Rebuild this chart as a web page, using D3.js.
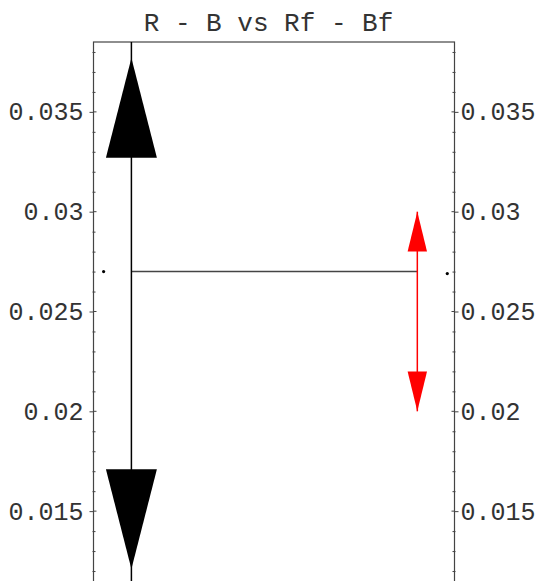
<!DOCTYPE html>
<html><head><meta charset="utf-8">
<script src="https://cdn.jsdelivr.net/npm/d3@7"></script>
<style>body{margin:0;background:#fff}</style>
</head><body>
<svg id="c" width="541" height="581"></svg>
<script>
const title = "R - B vs Rf - Bf";
const majorTicks = [0.015, 0.02, 0.025, 0.03, 0.035];
const tickLabels = ["0.015", "0.02", "0.025", "0.03", "0.035"];
const series = ["R - B", "Rf - Bf"];
const xPos = [0.105, 0.897];
const centers = [0.027, 0.027];
const lineHigh = [0.0385, 0.030];
const lineLow = [0.0115, 0.020];
const tipHigh = [0.0377, 0.030];
const baseHigh = [0.0327, 0.028];
const baseLow = [0.0171, 0.022];
const tipLow = [0.0121, 0.020];
const colors = ["#000", "#ff0000"];
const headHalf = [25.5, 9.7];
const dotX = [0.028, 0.98];
const dotY = [0.0270, 0.0269];

const svg = d3.select("#c");
const L = 93.5, R = 454.5, T = 42, B = 581;
const x = d3.scaleLinear().domain([0, 1]).range([L, R]);
const y = d3.scaleLinear().domain([0.0115, 0.0385]).range([B, T]);
const font = "'Liberation Mono', 'DejaVu Sans Mono', monospace";

// frame
svg.append("rect").attr("x", L).attr("y", T).attr("width", R - L).attr("height", B - T + 10)
  .attr("fill", "none").attr("stroke", "#444").attr("stroke-width", 1.2);

const minor = d3.range(0.012, 0.0385, 0.001).filter(v => !majorTicks.some(m => Math.abs(m - v) < 1e-9));
const la = d3.axisLeft(y).tickValues(majorTicks).tickFormat((d, i) => tickLabels[i]).tickSizeInner(4).tickSizeOuter(0).tickPadding(6);
const lg = svg.append("g").attr("transform", `translate(${L},0)`).call(la);
const ra = d3.axisRight(y).tickValues(majorTicks).tickFormat((d, i) => tickLabels[i]).tickSizeInner(4).tickSizeOuter(0).tickPadding(2);
const rg = svg.append("g").attr("transform", `translate(${R},0)`).call(ra);
[lg, rg].forEach(g => {
  g.select(".domain").remove();
  g.selectAll("line").attr("stroke", "#444");
  g.selectAll("text").attr("font-family", font).attr("font-size", 25).attr("fill", "#333");
});
const la2 = d3.axisLeft(y).tickValues(minor).tickFormat("").tickSizeInner(-3).tickSizeOuter(0);
svg.append("g").attr("transform", `translate(${L - 1},0)`).call(la2)
  .call(g => g.select(".domain").remove()).selectAll("line").attr("stroke", "#444");
const ra2 = d3.axisRight(y).tickValues(minor).tickFormat("").tickSizeInner(-3).tickSizeOuter(0);
svg.append("g").attr("transform", `translate(${R + 1},0)`).call(ra2)
  .call(g => g.select(".domain").remove()).selectAll("line").attr("stroke", "#444");
svg.append("g").selectAll("line").data(majorTicks).join("line")
  .attr("x1", L).attr("x2", L + 3).attr("y1", d => y(d)).attr("y2", d => y(d)).attr("stroke", "#444");
svg.append("g").selectAll("line").data(majorTicks).join("line")
  .attr("x1", R).attr("x2", R - 3).attr("y1", d => y(d)).attr("y2", d => y(d)).attr("stroke", "#444");

// title
svg.append("text").attr("x", 268.5).attr("y", 31).attr("text-anchor", "middle")
  .attr("font-family", font).attr("font-size", 26).attr("fill", "#333").text(title);

const plot = svg.append("g");
plot.append("line").attr("x1", x(xPos[0])).attr("x2", x(xPos[1]))
  .attr("y1", y(centers[0])).attr("y2", y(centers[1])).attr("stroke", "#444").attr("stroke-width", 1.5);

series.forEach((s, i) => {
  const cx = x(xPos[i]);
  plot.append("line").attr("x1", cx).attr("x2", cx).attr("y1", y(lineHigh[i])).attr("y2", y(lineLow[i]))
    .attr("stroke", colors[i]).attr("stroke-width", 1.5);
  const h = headHalf[i];
  plot.append("path").attr("d", `M${cx},${y(tipHigh[i])}L${cx - h},${y(baseHigh[i])}L${cx + h},${y(baseHigh[i])}Z`).attr("fill", colors[i]);
  plot.append("path").attr("d", `M${cx},${y(tipLow[i])}L${cx - h},${y(baseLow[i])}L${cx + h},${y(baseLow[i])}Z`).attr("fill", colors[i]);
});

plot.selectAll("circle").data(dotX).join("circle")
  .attr("cx", d => x(d)).attr("cy", (d, i) => y(dotY[i])).attr("r", 1.6).attr("fill", "#000");
</script>
</body></html>
